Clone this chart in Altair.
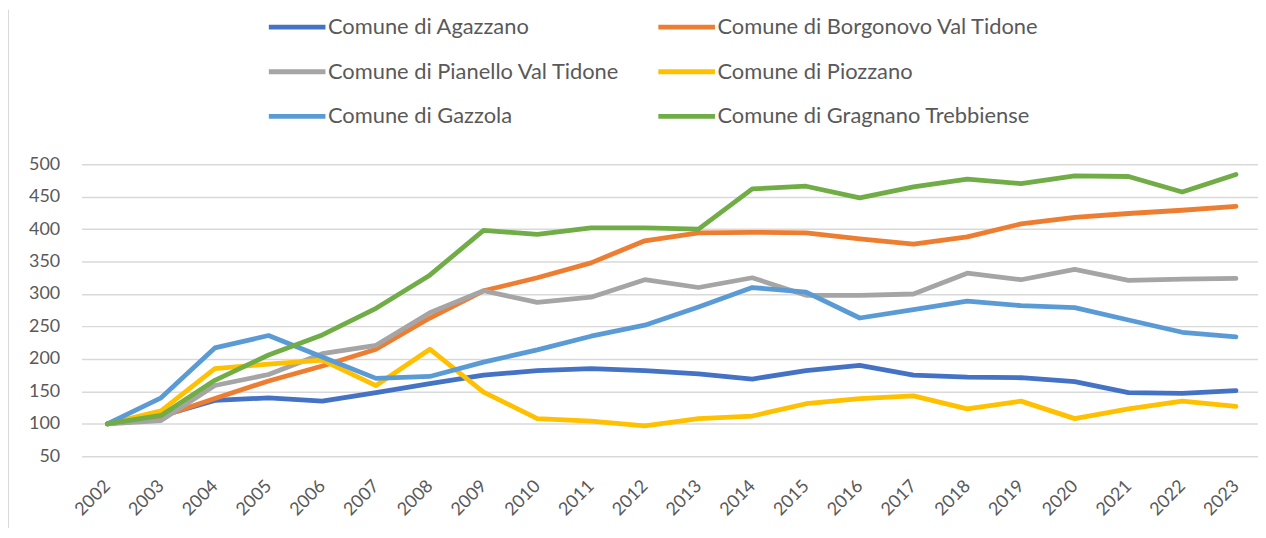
import altair as alt
import pandas as pd

years = list(range(2002, 2024))
series_names = [
    "Comune di Agazzano",
    "Comune di Borgonovo Val Tidone",
    "Comune di Pianello Val Tidone",
    "Comune di Piozzano",
    "Comune di Gazzola",
    "Comune di Gragnano Trebbiense",
]
colors = ["#4472C4", "#ED7D31", "#A5A5A5", "#FFC000", "#5B9BD5", "#70AD47"]

agazzano = [100, 112, 136, 140, 135, 148, 162, 175, 182, 185, 182, 177, 169, 182, 190, 175, 172, 171, 165, 148, 147, 151]
borgonovo = [100, 111, 139, 166, 189, 215, 263, 305, 325, 348, 382, 394, 395, 394, 385, 377, 388, 408, 418, 424, 429, 435]
pianello = [100, 105, 159, 176, 208, 221, 271, 305, 287, 295, 322, 310, 325, 298, 298, 300, 332, 322, 338, 321, 323, 324]
piozzano = [100, 120, 185, 192, 198, 159, 215, 149, 108, 104, 97, 108, 112, 131, 139, 143, 123, 135, 108, 123, 135, 127]
gazzola = [100, 140, 217, 236, 203, 170, 173, 195, 214, 235, 252, 280, 310, 303, 263, 276, 289, 282, 279, 260, 241, 234]
gragnano = [100, 113, 167, 206, 237, 278, 329, 398, 392, 402, 402, 400, 462, 466, 448, 465, 477, 470, 482, 481, 457, 484]

y_ticks = list(range(50, 501, 50))

all_series = [agazzano, borgonovo, pianello, piozzano, gazzola, gragnano]
rows = []
for i, (name, vals) in enumerate(zip(series_names, all_series)):
    for yr, v in zip(years, vals):
        rows.append({"anno": yr, "valore": v, "comune": name, "ord": i})
df = pd.DataFrame(rows)

FONT = "Lato"
LABEL_COLOR = "#595959"

lines = alt.Chart(df).mark_line(strokeWidth=4.8, strokeCap="round", strokeJoin="round").encode(
    x=alt.X(
        "anno:Q",
        scale=alt.Scale(domain=[2001.52, 2023.41], nice=False, zero=False),
        axis=alt.Axis(
            values=years, format="d", labelAngle=-45, grid=False, domain=False, ticks=False,
            labelFont=FONT, labelFontSize=18, labelColor=LABEL_COLOR, labelPadding=27,
            labelAlign="right", labelBaseline="middle", labelFlush=False, labelOverlap=False,
            labelBound=False, title=None,
        ),
    ),
    y=alt.Y(
        "valore:Q",
        scale=alt.Scale(domain=[50, 500], nice=False, zero=False),
        axis=alt.Axis(
            values=y_ticks, grid=True, gridColor="#D9D9D9", gridWidth=1.5, domain=False, ticks=False,
            labelFont=FONT, labelFontSize=18, labelColor=LABEL_COLOR, labelPadding=22, title=None,
        ),
    ),
    color=alt.Color(
        "comune:N",
        scale=alt.Scale(domain=series_names, range=colors),
        legend=alt.Legend(
            orient="none", legendX=200, legendY=-155, columns=2, direction="horizontal", title=None,
            symbolType="M-2,0H2", symbolSize=812, symbolStrokeWidth=4.8,
            labelOffset=14, labelFont=FONT, labelFontSize=22, labelColor=LABEL_COLOR,
            labelLimit=600, rowPadding=17, columnPadding=28, padding=0,
        ),
    ),
    detail="ord:O",
    order="ord:Q",
)

border = alt.Chart(pd.DataFrame({"k": [0]})).mark_rule(color="#D9D9D9", strokeWidth=1).encode(
    x=alt.value(-73.5), y=alt.value(-155.5), y2=alt.value(374)
)

chart = alt.layer(border, lines).properties(
    width=1184,
    height=294,
    autosize=alt.AutoSizeParams(type="none"),
    padding={"left": 74, "top": 155.5, "right": 0, "bottom": 70},
).configure_view(stroke=None)

chart.save("out.html", embed_options={"renderer": "svg", "actions": False})
